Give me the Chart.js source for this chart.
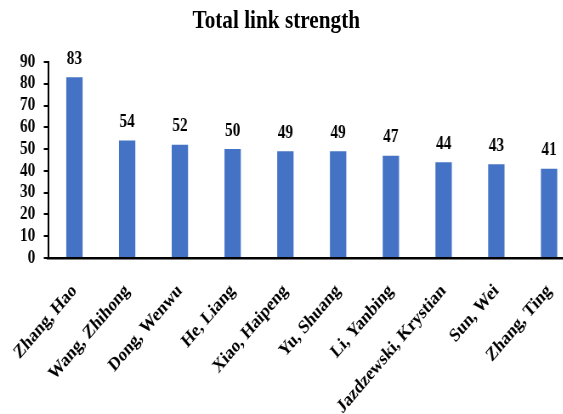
<!DOCTYPE html>
<html>
<head>
<meta charset="utf-8">
<script src="https://cdn.jsdelivr.net/npm/chart.js@4"></script>
<style>
  html, body { margin: 0; padding: 0; overflow: hidden; background: #fff; }
  #wrap { position: relative; width: 690px; height: 414px; transform: scaleX(0.85); transform-origin: 0 0; }
  #title { position: absolute; left: 0; top: 7px; width: 650px; text-align: center;
           font: bold 25px "Liberation Serif", "Times New Roman", serif; line-height: 25px; color: #000; }
</style>
</head>
<body>
<div id="wrap">
  <canvas id="chart" width="690" height="414"></canvas>
  <div id="title">Total link strength</div>
</div>
<script>
// datos
const authors = ["Zhang, Hao", "Wang, Zhihong", "Dong, Wenwu", "He, Liang", "Xiao, Haipeng",
  "Yu, Shuang", "Li, Yanbing", "Jazdzewski, Krystian", "Sun, Wei", "Zhang, Ting"];
const linkStrength = [83, 54, 52, 50, 49, 49, 47, 44, 43, 41];
const yTicks = [0, 10, 20, 30, 40, 50, 60, 70, 80, 90];

const serif = "'Liberation Serif', 'Times New Roman', serif";

// etiquetas de valor encima de cada barra
const valueLabels = {
  id: "valueLabels",
  afterDatasetsDraw(chart) {
    const ctx = chart.ctx;
    const meta = chart.getDatasetMeta(0);
    ctx.save();
    ctx.fillStyle = "#000";
    ctx.font = "bold 18px " + serif;
    ctx.textAlign = "center";
    ctx.textBaseline = "bottom";
    meta.data.forEach((bar, i) => {
      ctx.fillText(String(linkStrength[i]), bar.x, bar.y - 9);
    });
    ctx.restore();
  }
};

new Chart(document.getElementById("chart"), {
  type: "bar",
  data: {
    labels: authors,
    datasets: [{
      label: "Total link strength",
      data: linkStrength,
      backgroundColor: "#4472C4",
      barPercentage: 0.31,
      categoryPercentage: 1
    }]
  },
  options: {
    responsive: false,
    animation: false,
    devicePixelRatio: 1,
    layout: { padding: { top: 62, right: 13, left: 0, bottom: 0 } },
    plugins: {
      legend: { display: false },
      tooltip: { enabled: false },
      title: { display: false }
    },
    scales: {
      x: {
        grid: { display: false },
        border: { display: true, color: "#000", width: 2.5 },
        ticks: {
          color: "#000",
          font: { family: serif, size: 19, weight: "bold" },
          minRotation: 45,
          maxRotation: 45,
          autoSkip: false,
          padding: 14
        },
        afterFit(scale) { scale.height = 156; }
      },
      y: {
        min: yTicks[0],
        max: yTicks[yTicks.length - 1],
        grid: { display: true, drawOnChartArea: false, drawTicks: true, tickLength: 5, color: "#000", lineWidth: 2 },
        border: { display: true, color: "#000", width: 2 },
        ticks: {
          color: "#000",
          font: { family: serif, size: 18, weight: "bold" },
          stepSize: 10,
          autoSkip: false,
          padding: 10
        },
        afterFit(scale) { scale.width = 56.5; }
      }
    }
  },
  plugins: [valueLabels]
});
</script>
</body>
</html>
